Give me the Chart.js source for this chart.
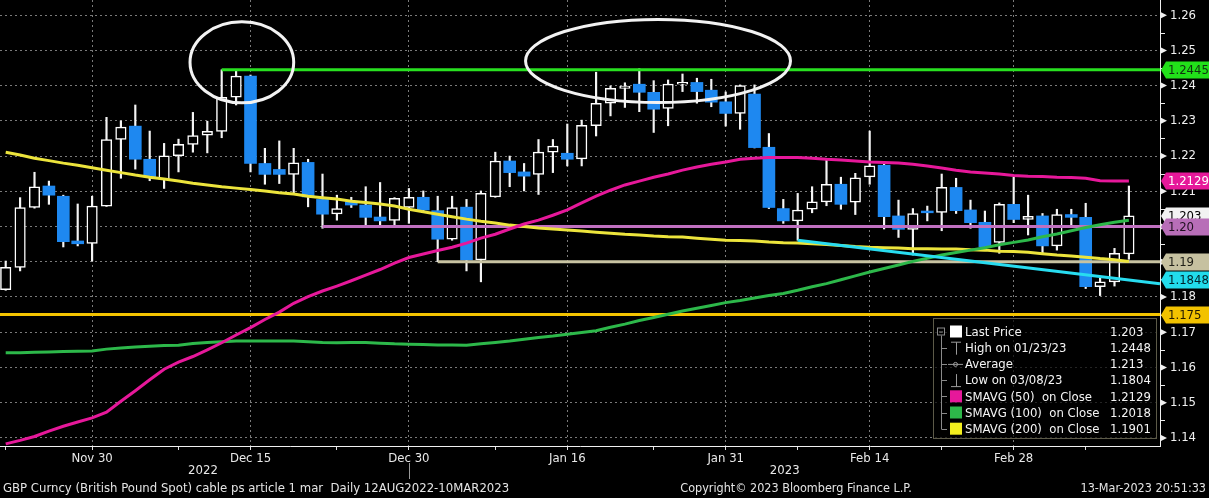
<!DOCTYPE html>
<html><head><meta charset="utf-8">
<script src="https://cdn.jsdelivr.net/npm/chart.js@4/dist/chart.umd.min.js"></script>
<style>html,body{margin:0;padding:0;background:#000;overflow:hidden}canvas{display:block}</style>
</head><body>
<canvas id="c" width="1209" height="498"></canvas>
<script>
// ---------------- DATA ----------------
const dates = ['2022-11-22','2022-11-23','2022-11-24','2022-11-25','2022-11-28','2022-11-29','2022-11-30','2022-12-01','2022-12-02','2022-12-05','2022-12-06','2022-12-07','2022-12-08','2022-12-09','2022-12-12','2022-12-13','2022-12-14','2022-12-15','2022-12-16','2022-12-19','2022-12-20','2022-12-21','2022-12-22','2022-12-23','2022-12-26','2022-12-27','2022-12-28','2022-12-29','2022-12-30','2023-01-02','2023-01-03','2023-01-04','2023-01-05','2023-01-06','2023-01-09','2023-01-10','2023-01-11','2023-01-12','2023-01-13','2023-01-16','2023-01-17','2023-01-18','2023-01-19','2023-01-20','2023-01-23','2023-01-24','2023-01-25','2023-01-26','2023-01-27','2023-01-30','2023-01-31','2023-02-01','2023-02-02','2023-02-03','2023-02-06','2023-02-07','2023-02-08','2023-02-09','2023-02-10','2023-02-13','2023-02-14','2023-02-15','2023-02-16','2023-02-17','2023-02-20','2023-02-21','2023-02-22','2023-02-23','2023-02-24','2023-02-27','2023-02-28','2023-03-01','2023-03-02','2023-03-03','2023-03-06','2023-03-07','2023-03-08','2023-03-09','2023-03-10'];

const open = [1.1821,1.1884,1.2054,1.2115,1.2086,1.1959,1.1952,1.2058,1.2247,1.2285,1.2191,1.2134,1.2201,1.2233,1.2259,1.2270,1.2367,1.2427,1.2179,1.2162,1.2148,1.2182,1.2077,1.2036,1.2070,1.2061,1.2027,1.2017,1.2054,1.2083,1.2045,1.1964,1.2055,1.1905,1.2084,1.2186,1.2155,1.2148,1.2211,1.2208,1.2192,1.2286,1.2350,1.2392,1.2404,1.2381,1.2335,1.2404,1.2409,1.2387,1.2354,1.2321,1.2376,1.2225,1.2051,1.2016,1.2049,1.2070,1.2120,1.2069,1.2141,1.2174,1.2030,1.1992,1.2044,1.2040,1.2111,1.2047,1.2012,1.1955,1.2063,1.2020,1.2030,1.1945,1.2034,1.2026,1.1829,1.1843,1.1922];
const high = [1.1902,1.2082,1.2154,1.2129,1.2089,1.2064,1.2086,1.2310,1.2300,1.2345,1.2271,1.2236,1.2248,1.2324,1.2299,1.2445,1.2442,1.2430,1.2222,1.2243,1.2222,1.2191,1.2149,1.2089,1.2083,1.2113,1.2125,1.2082,1.2108,1.2101,1.2086,1.2086,1.2077,1.2101,1.2211,1.2200,1.2179,1.2247,1.2247,1.2291,1.2302,1.2438,1.2399,1.2408,1.2448,1.2414,1.2416,1.2433,1.2421,1.2418,1.2382,1.2402,1.2402,1.2264,1.2077,1.2094,1.2113,1.2189,1.2140,1.2151,1.2271,1.2179,1.2075,1.2051,1.2058,1.2149,1.2137,1.2075,1.2044,1.2067,1.2140,1.2089,1.2037,1.2049,1.2049,1.2066,1.1853,1.1938,1.2115];
const low = [1.1819,1.1874,1.2052,1.2063,1.1942,1.1945,1.1902,1.2057,1.2137,1.2163,1.2130,1.2108,1.2155,1.2211,1.2209,1.2252,1.2345,1.2155,1.2120,1.2122,1.2094,1.2056,1.1995,1.2018,1.2054,1.2004,1.2004,1.2004,1.2009,1.2041,1.1900,1.1961,1.1874,1.1843,1.2083,1.2113,1.2101,1.2091,1.2153,1.2172,1.2172,1.2257,1.2314,1.2338,1.2326,1.2267,1.2286,1.2383,1.2350,1.2340,1.2285,1.2276,1.2223,1.2051,1.2009,1.1961,1.2039,1.2059,1.2049,1.2034,1.2120,1.1993,1.1969,1.1919,1.2016,1.1988,1.2037,1.1995,1.1939,1.1924,1.2011,1.1976,1.1925,1.1933,1.2004,1.1824,1.1804,1.1831,1.1907];
const close = [1.1884,1.2054,1.2113,1.2089,1.1957,1.1951,1.2058,1.2247,1.2282,1.2191,1.2141,1.2201,1.2233,1.2258,1.2270,1.2367,1.2427,1.2179,1.2148,1.2148,1.2181,1.2084,1.2035,1.2051,1.2061,1.2026,1.2016,1.2080,1.2083,1.2047,1.1964,1.2054,1.1905,1.2094,1.2186,1.2153,1.2143,1.2211,1.2228,1.2191,1.2287,1.2350,1.2392,1.2399,1.2381,1.2333,1.2404,1.2409,1.2383,1.2353,1.2321,1.2400,1.2224,1.2054,1.2016,1.2047,1.2070,1.2120,1.2063,1.2138,1.2172,1.2028,1.1992,1.2037,1.2039,1.2111,1.2045,1.2011,1.1942,1.2063,1.2020,1.2029,1.1945,1.2034,1.2026,1.1829,1.1843,1.1924,1.2030];

const sma50 = [1.1383,1.1393,1.1404,1.1419,1.1433,1.1445,1.1457,1.1473,1.1504,1.1534,1.1565,1.1595,1.1615,1.1631,1.1650,1.1670,1.1692,1.1713,1.1736,1.1757,1.1782,1.1801,1.1817,1.1831,1.1846,1.1862,1.1878,1.1896,1.1912,1.1922,1.1932,1.1941,1.1953,1.1967,1.1978,1.1993,1.2007,1.2018,1.2032,1.2047,1.2067,1.2086,1.2103,1.2118,1.2129,1.2140,1.2149,1.2160,1.2169,1.2177,1.2183,1.2191,1.2194,1.2196,1.2196,1.2196,1.2194,1.2191,1.2189,1.2186,1.2183,1.2182,1.2180,1.2177,1.2172,1.2166,1.2160,1.2155,1.2152,1.2149,1.2145,1.2143,1.2142,1.2140,1.2139,1.2137,1.2130,1.2129,1.2129];
const sma100 = [1.1642,1.1642,1.1643,1.1644,1.1645,1.1646,1.1647,1.1652,1.1655,1.1658,1.1660,1.1662,1.1663,1.1668,1.1671,1.1673,1.1675,1.1675,1.1675,1.1675,1.1675,1.1673,1.1671,1.1670,1.1671,1.1671,1.1669,1.1667,1.1666,1.1665,1.1664,1.1664,1.1663,1.1667,1.1671,1.1675,1.1680,1.1685,1.1689,1.1694,1.1699,1.1704,1.1714,1.1723,1.1733,1.1742,1.1751,1.1760,1.1768,1.1776,1.1784,1.1790,1.1797,1.1804,1.1810,1.1819,1.1829,1.1838,1.1849,1.1860,1.1871,1.1881,1.1891,1.1901,1.1910,1.1919,1.1926,1.1933,1.1940,1.1948,1.1955,1.1962,1.1971,1.1979,1.1988,1.1997,1.2005,1.2012,1.2018];
const sma200 = [1.2211,1.2203,1.2194,1.2187,1.2180,1.2174,1.2167,1.2160,1.2153,1.2146,1.2140,1.2135,1.2129,1.2123,1.2118,1.2113,1.2109,1.2105,1.2101,1.2096,1.2092,1.2086,1.2082,1.2078,1.2072,1.2068,1.2064,1.2058,1.2049,1.2042,1.2035,1.2028,1.2021,1.2015,1.2010,1.2004,1.2000,1.1996,1.1993,1.1990,1.1987,1.1984,1.1981,1.1978,1.1976,1.1973,1.1971,1.1970,1.1967,1.1964,1.1961,1.1960,1.1959,1.1956,1.1954,1.1953,1.1951,1.1949,1.1946,1.1943,1.1941,1.1940,1.1939,1.1937,1.1937,1.1936,1.1936,1.1934,1.1933,1.1930,1.1929,1.1927,1.1923,1.1919,1.1916,1.1913,1.1909,1.1906,1.1901];

const xTickDates  = ['2022-11-30','2022-12-15','2022-12-30','2023-01-16','2023-01-31','2023-02-14','2023-02-28'];
const xTickLabels = ['Nov 30','Dec 15','Dec 30','Jan 16','Jan 31','Feb 14','Feb 28'];
const xMinorDates = ['2022-11-22','2022-12-08','2022-12-23','2023-01-09','2023-01-24','2023-02-07','2023-02-21','2023-03-07'];
const yTicks = [1.14,1.15,1.16,1.17,1.18,1.19,1.20,1.21,1.22,1.23,1.24,1.25,1.26];

const levelValues = [1.2445, 1.20, 1.19, 1.175];
const levelFrom   = ['2022-12-13','2022-12-22','2023-01-03', null];
const trendDates  = ['2023-02-07','2023-03-10'];
const trendValues = [1.1961, 1.1848];

const tagValues = [1.2445, 1.2129, 1.203, 1.20, 1.19, 1.1848, 1.175];
const tagTexts  = ['1.2445','1.2129','1.203','1.20','1.19','1.1848','1.175'];

const legendLabels = ['Last Price','High on 01/23/23','Average','Low on 03/08/23','SMAVG (50)  on Close','SMAVG (100)  on Close','SMAVG (200)  on Close'];
const legendValues = ['1.203','1.2448','1.213','1.1804','1.2129','1.2018','1.1901'];

const yearLabels = ['2022','2023'];
const footerLeft = 'GBP Curncy (British Pound Spot) cable ps article 1 mar  Daily 12AUG2022-10MAR2023';
const footerMid = 'Copyright\u00A9 2023 Bloomberg Finance L.P.';
const footerRight = '13-Mar-2023 20:51:33';

// ---------------- STYLE ----------------
const F = "'DejaVu Sans Condensed','DejaVu Sans',sans-serif";
const BLUE = '#1e88f0', MAG = '#e6189a', GRN = '#2db84a', YEL = '#ece43c', GOLD = '#f4c400';
const LVL_COLORS = ['#28e020', '#c070c0', '#c8c3a2', GOLD];
const TAG_BG = ['#22e01a', MAG, '#f2f2f2', '#b86eb8', '#c6c1a0', '#22dcec', '#f2c200'];
const TAG_FG = ['#103010', '#ffffff', '#000000', '#201020', '#202018', '#002028', '#201800'];
const LEG_ICONS = [['sq','#ffffff'],['high'],['avg'],['low'],['sq',MAG],['sq',GRN],['sq','#f2ee1e']];
const GRID = '#7a7a7a';
const XMIN = -0.396, XMAX = 80.16, YMIN = 1.1377, YMAX = 1.2643;

const ix = d => d === null ? XMIN : dates.indexOf(d);
const xMajor = xTickDates.map(ix), xMinor = xMinorDates.map(ix);

const wicks = dates.map((d,i)=>({x:i, y:[low[i], high[i]]}));
const upBodies = [], downBodies = [];
dates.forEach((d,i)=>{ (close[i] >= open[i] ? upBodies : downBodies).push({x:i, y:[open[i], close[i]]}); });
const line = arr => arr.map((v,i)=>({x:i, y:v}));

const datasets = [
  {type:'line', label:'SMAVG (50)', data:line(sma50), borderColor:MAG, borderWidth:3, pointRadius:0, order:2},
  {type:'line', label:'SMAVG (100)', data:line(sma100), borderColor:GRN, borderWidth:3, pointRadius:0, order:2},
  {type:'line', label:'SMAVG (200)', data:line(sma200), borderColor:YEL, borderWidth:3, pointRadius:0, order:2},
];
levelValues.forEach((v,k)=>{
  datasets.push({type:'line', label:'level '+v, data:[{x:ix(levelFrom[k]), y:v},{x:XMAX, y:v}], borderColor:LVL_COLORS[k], borderWidth:3, pointRadius:0, order:3});
});
{
  const x0 = ix(trendDates[0]), x1 = ix(trendDates[1]);
  const slope = (trendValues[1]-trendValues[0])/(x1-x0);
  datasets.push({type:'line', label:'trend', data:[{x:x0,y:trendValues[0]},{x:x1,y:trendValues[1]},{x:XMAX,y:trendValues[1]+slope*(XMAX-x1)}], borderColor:'#28dcf0', borderWidth:3, pointRadius:0, order:1});
}
datasets.push({type:'bar', label:'up', data:upBodies, backgroundColor:'#000', borderColor:'#fff', borderWidth:1.5, borderSkipped:false, barThickness:10.5, grouped:false, order:10});
datasets.push({type:'bar', label:'down', data:downBodies, backgroundColor:BLUE, borderWidth:0, borderSkipped:false, barThickness:12, grouped:false, minBarLength:1, order:10});
datasets.push({type:'bar', label:'wick', data:wicks, backgroundColor:'#f4f4f4', borderWidth:0, barThickness:1.5, grouped:false, order:11});

const overlay = {
  id:'overlay',
  afterDatasetsDraw(chart){
    const {ctx, scales:{x,y}} = chart;
    ctx.save();
    ctx.strokeStyle = '#f2f2f2'; ctx.lineWidth = 3;
    for (const e of [{cx:16.4, cy:1.2466, rx:3.6, ry:0.0115},{cx:45.3, cy:1.2470, rx:9.2, ry:0.0118}]) {
      const cx = x.getPixelForValue(e.cx), cy = y.getPixelForValue(e.cy);
      const rx = x.getPixelForValue(e.cx+e.rx)-cx, ry = cy - y.getPixelForValue(e.cy+e.ry);
      ctx.beginPath(); ctx.ellipse(cx, cy, rx, ry, 0, 0, Math.PI*2); ctx.stroke();
    }
    ctx.restore();
  },
  afterDraw(chart){
    const {ctx, chartArea:ca, scales:{x,y}} = chart;
    const R = ca.right;
    ctx.save();
    // y-axis markers
    ctx.fillStyle = '#f0f0f0'; ctx.strokeStyle = '#f0f0f0'; ctx.lineWidth = 1;
    yTicks.forEach(v=>{
      const p = y.getPixelForValue(v);
      ctx.beginPath(); ctx.moveTo(R+1, p-3); ctx.lineTo(R+7, p); ctx.lineTo(R+1, p+3); ctx.closePath(); ctx.fill();
      const m = y.getPixelForValue(v+0.005);
      if (m > ca.top) { ctx.beginPath(); ctx.moveTo(R, Math.round(m)+0.5); ctx.lineTo(R+5, Math.round(m)+0.5); ctx.stroke(); }
    });
    // tags
    ctx.font = '13px ' + F; ctx.textBaseline = 'middle'; ctx.textAlign = 'left';
    tagValues.forEach((v,k)=>{
      const p = Math.round(y.getPixelForValue(v));
      ctx.fillStyle = TAG_BG[k];
      ctx.beginPath(); ctx.moveTo(R+1, p); ctx.lineTo(R+6, p-8.5); ctx.lineTo(1209, p-8.5); ctx.lineTo(1209, p+8.5); ctx.lineTo(R+6, p+8.5); ctx.closePath(); ctx.fill();
      ctx.fillStyle = TAG_FG[k];
      ctx.fillText(tagTexts[k], R+8, p+1);
    });
    // legend
    const LX = 933, LY = 318, LW = 223, LH = 120;
    ctx.fillStyle = 'rgba(0,0,0,0.7)'; ctx.fillRect(LX, LY, LW, LH);
    ctx.strokeStyle = '#5c5a48'; ctx.lineWidth = 1; ctx.strokeRect(LX+0.5, LY+0.5, LW, LH);
    const rowY = k => 331.5 + k*16.2;
    ctx.strokeStyle = '#8a8a8a';
    ctx.strokeRect(937.5, rowY(0)-3.5, 7, 7);
    ctx.beginPath(); ctx.moveTo(939, rowY(0)+0.5); ctx.lineTo(943, rowY(0)+0.5); ctx.stroke();
    ctx.beginPath(); ctx.moveTo(941.5, rowY(0)+4); ctx.lineTo(941.5, rowY(6)+0.5); ctx.stroke();
    for (let k=1;k<7;k++){ ctx.beginPath(); ctx.moveTo(941.5, Math.round(rowY(k))+0.5); ctx.lineTo(947, Math.round(rowY(k))+0.5); ctx.stroke(); }
    ctx.font = '13px ' + F;
    legendLabels.forEach((t,k)=>{
      const cy = rowY(k), ic = LEG_ICONS[k];
      ctx.strokeStyle = '#9a9a9a'; ctx.fillStyle = '#9a9a9a';
      if (ic[0]==='sq') { ctx.fillStyle = ic[1]; ctx.fillRect(950, cy-6, 12, 12); }
      else if (ic[0]==='high') { ctx.beginPath(); ctx.moveTo(951, cy-5.5); ctx.lineTo(961, cy-5.5); ctx.moveTo(956.5, cy-5.5); ctx.lineTo(956.5, cy+7); ctx.stroke(); }
      else if (ic[0]==='low') { ctx.beginPath(); ctx.moveTo(951, cy+6.5); ctx.lineTo(961, cy+6.5); ctx.moveTo(956.5, cy+6.5); ctx.lineTo(956.5, cy-6); ctx.stroke(); }
      else { ctx.beginPath(); ctx.moveTo(948, cy+0.5); ctx.lineTo(963, cy+0.5); ctx.stroke(); ctx.beginPath(); ctx.arc(955.5, cy+0.5, 2, 0, Math.PI*2); ctx.stroke(); }
      ctx.fillStyle = '#f4f4f4';
      ctx.fillText(t, 965, cy+1);
      ctx.fillText(legendValues[k], 1110, cy+1);
    });
    // year labels + separator
    ctx.fillStyle = '#e8e8e8'; ctx.font = '13px ' + F; ctx.textAlign = 'center';
    ctx.fillText(yearLabels[0], x.getPixelForValue(13.7), 471);
    ctx.fillText(yearLabels[1], x.getPixelForValue(54.1), 471);
    ctx.strokeStyle = '#9a9a9a'; ctx.lineWidth = 1;
    const sx = Math.round(x.getPixelForValue(ix('2022-12-30')))+0.5;
    ctx.beginPath(); ctx.moveTo(sx, 463); ctx.lineTo(sx, 479); ctx.stroke();
    // footer
    ctx.font = '13px ' + F; ctx.fillStyle = '#e4e4e4';
    ctx.textAlign = 'left'; ctx.fillText(footerLeft, 3, 489);
    ctx.font = '12.5px ' + F;
    ctx.textAlign = 'center'; ctx.fillText(footerMid, 796, 489);
    ctx.textAlign = 'right'; ctx.fillText(footerRight, 1206, 489);
    ctx.restore();
  }
};

new Chart(document.getElementById('c'), {
  type:'bar',
  data:{ datasets },
  options:{
    responsive:false, animation:false, devicePixelRatio:1, events:[],
    layout:{padding:0},
    plugins:{legend:{display:false}, tooltip:{enabled:false}},
    scales:{
      x:{
        type:'linear', min:XMIN, max:XMAX, offset:false,
        grid:{offset:false, color:c => (c.tick && xMajor.includes(c.tick.value)) ? GRID : 'rgba(0,0,0,0)', tickColor:'#e0e0e0', tickLength:4, lineWidth:1},
        border:{display:true, color:'#f0f0f0', width:1, dash:[2,3]},
        afterBuildTicks: s => { s.ticks = [...xMajor, ...xMinor].sort((a,b)=>a-b).map(v=>({value:v})); },
        afterFit: s => { s.height = 52; s.paddingLeft = 0; s.paddingRight = 0; },
        ticks:{autoSkip:false, maxRotation:0, padding:1, color:'#e8e8e8', font:{family:F, size:13},
          callback: v => { const k = xMajor.indexOf(v); return k >= 0 ? xTickLabels[k] : ''; }}
      },
      y:{
        type:'linear', position:'right', min:YMIN, max:YMAX,
        grid:{color:GRID, drawTicks:false, lineWidth:1},
        border:{display:true, color:'#f0f0f0', width:1, dash:[2,3]},
        afterBuildTicks: s => { s.ticks = yTicks.map(v=>({value:v})); },
        afterFit: s => { s.width = 49; s.paddingTop = 0; s.paddingBottom = 0; },
        ticks:{padding:10, color:'#f0f0f0', font:{family:F, size:13}, callback: v => Number(v).toFixed(2)}
      }
    }
  },
  plugins:[overlay]
});
</script>
</body></html>
